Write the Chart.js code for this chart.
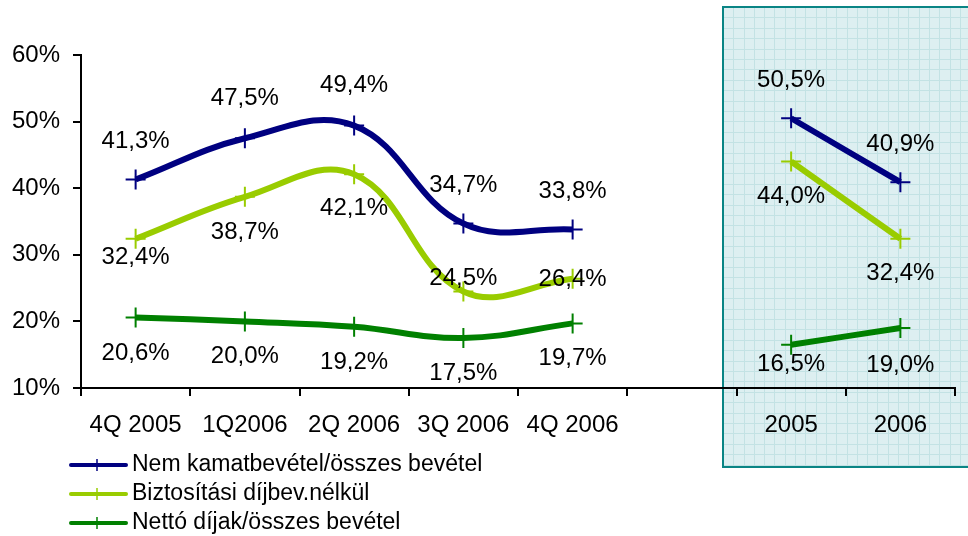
<!DOCTYPE html>
<html>
<head>
<meta charset="utf-8">
<script src="https://cdn.jsdelivr.net/npm/chart.js@4"></script>
<style>
  body { margin: 0; background: #fff; }
  #wrap { width: 968px; height: 536px; }
</style>
</head>
<body>
<div id="wrap"><canvas id="ratioChart" width="968" height="536"></canvas></div>
<script>
const categories = ['4Q 2005', '1Q2006', '2Q 2006', '3Q 2006', '4Q 2006', '', '2005', '2006'];
const nemKamat = [41.3, 47.5, 49.4, 34.7, 33.8, null, 50.5, 40.9];
const biztositasi = [32.4, 38.7, 42.1, 24.5, 26.4, null, 44.0, 32.4];
const nettoDijak = [20.6, 20.0, 19.2, 17.5, 19.7, null, 16.5, 19.0];
const seriesNames = ['Nem kamatbevétel/összes bevétel', 'Biztosítási díjbev.nélkül', 'Nettó díjak/összes bevétel'];
const yMin = 10, yMax = 60, yStep = 10;

Chart.defaults.font.family = '"Liberation Sans", Arial, sans-serif';
Chart.defaults.font.size = 24;
Chart.defaults.color = '#000';

const fmt = v => v.toFixed(1).replace('.', ',') + '%';

// shaded yearly box behind the last two categories
const yearBox = {
  id: 'yearBox',
  beforeDraw(chart) {
    const { ctx, scales: { x } } = chart;
    const catW = x.width / categories.length;
    const left = Math.round(x.getPixelForValue(6) - catW / 2 - 14);
    const top = 7, bottom = 467, right = chart.width + 4;
    ctx.save();
    ctx.fillStyle = '#ddeff1';
    ctx.fillRect(left, top, right - left, bottom - top);
    ctx.strokeStyle = '#c3e2e4';
    ctx.lineWidth = 1;
    ctx.beginPath();
    for (let gx = left + 10.3; gx < right; gx += 10.3) {
      ctx.moveTo(Math.round(gx) + 0.5, top);
      ctx.lineTo(Math.round(gx) + 0.5, bottom);
    }
    for (let gy = top + 10.4; gy < bottom; gy += 10.4) {
      ctx.moveTo(left, Math.round(gy) + 0.5);
      ctx.lineTo(right, Math.round(gy) + 0.5);
    }
    ctx.stroke();
    ctx.strokeStyle = '#0a8585';
    ctx.lineWidth = 2;
    ctx.strokeRect(left, top, right - left, bottom - top);
    ctx.restore();
  }
};

const valueLabels = {
  id: 'valueLabels',
  afterDatasetsDraw(chart) {
    const { ctx } = chart;
    ctx.save();
    ctx.font = '24px "Liberation Sans", Arial, sans-serif';
    ctx.fillStyle = '#000';
    ctx.textAlign = 'center';
    ctx.textBaseline = 'middle';
    chart.data.datasets.forEach((ds, i) => {
      const meta = chart.getDatasetMeta(i);
      meta.data.forEach((pt, j) => {
        const v = ds.data[j];
        if (v === null) return;
        ctx.fillText(fmt(v), pt.x, pt.y + ds.labelDy[j]);
      });
    });
    ctx.restore();
  }
};

const lineLegend = {
  id: 'lineLegend',
  afterDraw(chart) {
    const { ctx } = chart;
    ctx.save();
    ctx.font = '23px "Liberation Sans", Arial, sans-serif';
    ctx.textBaseline = 'middle';
    ctx.textAlign = 'left';
    chart.data.datasets.forEach((ds, i) => {
      const y = 465 + i * 29;
      ctx.strokeStyle = ds.borderColor;
      ctx.lineCap = 'round';
      ctx.lineWidth = 4;
      ctx.beginPath();
      ctx.moveTo(71, y);
      ctx.lineTo(126, y);
      ctx.stroke();
      ctx.lineCap = 'butt';
      ctx.lineWidth = 1.5;
      ctx.beginPath();
      ctx.moveTo(97, y - 6);
      ctx.lineTo(97, y + 6);
      ctx.stroke();
      ctx.fillStyle = '#000';
      ctx.fillText(ds.label, 132, y);
    });
    ctx.restore();
  }
};

const lineStyle = (color) => ({
  borderColor: color,
  backgroundColor: color,
  borderWidth: 6,
  pointStyle: 'cross',
  pointRadius: 10,
  pointBorderWidth: 2,
  pointBorderColor: color,
  tension: 0.4,
  spanGaps: false,
  fill: false
});

new Chart(document.getElementById('ratioChart'), {
  type: 'line',
  data: {
    labels: categories,
    datasets: [
      Object.assign({ label: seriesNames[0], data: nemKamat, labelDy: [-38, -40, -40, -38, -38, 0, -38, -38] }, lineStyle('#000080')),
      Object.assign({ label: seriesNames[1], data: biztositasi, labelDy: [19, 36, 34, -13, 1, 0, 35, 35] }, lineStyle('#99cc00')),
      Object.assign({ label: seriesNames[2], data: nettoDijak, labelDy: [36, 35, 36, 35, 35, 0, 20, 37] }, lineStyle('#008000'))
    ]
  },
  options: {
    responsive: false,
    animation: false,
    layout: { padding: { top: 55, right: 13, bottom: 0, left: 0 } },
    plugins: {
      legend: { display: false },
      tooltip: { enabled: false }
    },
    scales: {
      x: {
        offset: true,
        grid: { offset: true, drawOnChartArea: false, drawTicks: true, tickLength: 8, color: '#000', lineWidth: 2 },
        border: { color: '#000', width: 2 },
        ticks: { padding: 15, maxRotation: 0, autoSkip: false },
        afterFit(scale) { scale.height = 148; }
      },
      y: {
        min: yMin,
        max: yMax,
        grid: { drawOnChartArea: false, drawTicks: true, tickLength: 8, color: '#000', lineWidth: 2 },
        border: { color: '#000', width: 2 },
        ticks: { stepSize: yStep, padding: 13, callback: v => v + '%' },
        afterFit(scale) { scale.width = 81; }
      }
    }
  },
  plugins: [yearBox, valueLabels, lineLegend]
});
</script>
</body>
</html>
